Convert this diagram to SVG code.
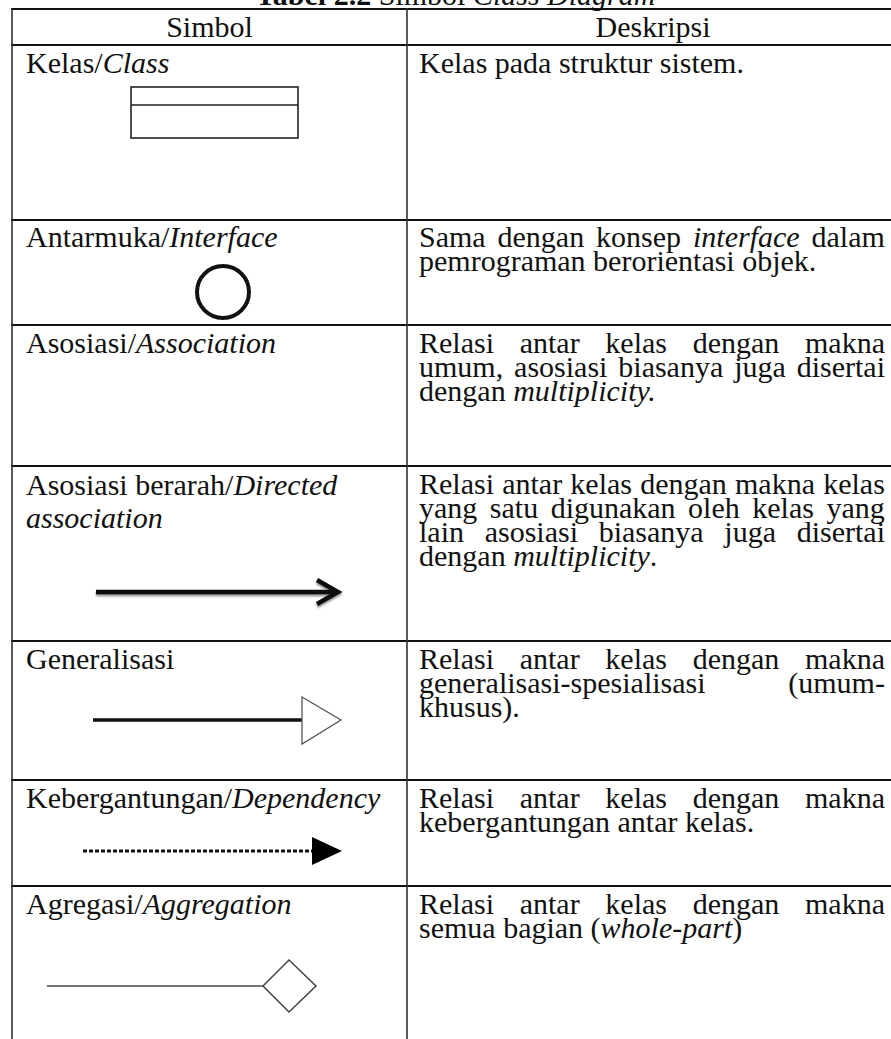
<svg xmlns="http://www.w3.org/2000/svg" width="891" height="1039" viewBox="0 0 891 1039">
  <style>
    .t { font-family: "Liberation Serif", "Times New Roman", serif; font-size: 30px; fill: #111; }
    .i { font-style: italic; }
    .b { font-weight: bold; }
    .mid { text-anchor: middle; }
    .rule { stroke: #111; stroke-width: 2.2; fill: none; }
    .col { stroke: #333; stroke-width: 1.6; fill: none; }
    .sym { stroke: #111; fill: none; }
  </style>
  <defs>
    <filter id="soft" x="-10%" y="-100%" width="120%" height="300%">
      <feGaussianBlur in="SourceAlpha" stdDeviation="1.2"/>
      <feOffset dx="0" dy="1.5" result="b"/>
      <feComponentTransfer><feFuncA type="linear" slope="0.45"/></feComponentTransfer>
      <feMerge><feMergeNode/><feMergeNode in="SourceGraphic"/></feMerge>
    </filter>
  </defs>
  <rect width="891" height="1039" fill="#fff"/>

  <!-- caption -->
  <text class="t mid" x="455.5" y="4.5"><tspan class="b">Tabel 2.2</tspan> Simbol <tspan class="i">Class Diagram</tspan></text>

  <!-- table rules -->
  <g id="grid">
    <line class="rule" x1="11" y1="9" x2="891" y2="9"/>
    <line class="rule" x1="11" y1="45" x2="891" y2="45"/>
    <line class="rule" x1="11" y1="220" x2="891" y2="220"/>
    <line class="rule" x1="11" y1="325" x2="891" y2="325"/>
    <line class="rule" x1="11" y1="466" x2="891" y2="466"/>
    <line class="rule" x1="11" y1="641" x2="891" y2="641"/>
    <line class="rule" x1="11" y1="780" x2="891" y2="780"/>
    <line class="rule" x1="11" y1="886" x2="891" y2="886"/>
    <line class="col" x1="12" y1="8" x2="12" y2="1039"/>
    <line class="col" x1="407" y1="8" x2="407" y2="1039"/>
  </g>

  <g id="header">
    <text class="t mid" x="209.5" y="37">Simbol</text>
    <text class="t mid" x="653" y="37">Deskripsi</text>
  </g>

  <g id="row-class">
    <text class="t" x="26" y="73">Kelas/<tspan class="i">Class</tspan></text>
    <rect x="131" y="87" width="167" height="51" fill="none" stroke="#222" stroke-width="1.6"/>
    <line x1="131" y1="105" x2="298" y2="105" stroke="#222" stroke-width="1.6"/>
    <text class="t" x="419" y="73">Kelas pada struktur sistem.</text>
  </g>

  <g id="row-interface">
    <text class="t" x="26" y="247">Antarmuka/<tspan class="i">Interface</tspan></text>
    <circle class="sym" cx="223" cy="292" r="26" stroke-width="4"/>
    <text class="t" x="419" y="247" word-spacing="4.4">Sama dengan konsep <tspan class="i">interface</tspan> dalam</text>
    <text class="t" x="419" y="271">pemrograman berorientasi objek.</text>
  </g>

  <g id="row-association">
    <text class="t" x="26" y="353">Asosiasi/<tspan class="i">Association</tspan></text>
    <line class="sym" x1="96" y1="429" x2="340" y2="429" stroke-width="5" filter="url(#soft)"/>
    <text class="t" x="419" y="353" word-spacing="18.2">Relasi antar kelas dengan makna</text>
    <text class="t" x="419" y="377" word-spacing="3.4">umum, asosiasi biasanya juga disertai</text>
    <text class="t" x="419" y="401">dengan <tspan class="i">multiplicity.</tspan></text>
  </g>

  <g id="row-directed">
    <text class="t" x="26" y="495">Asosiasi berarah/<tspan class="i">Directed</tspan></text>
    <text class="t i" x="26" y="528">association</text>
    <g filter="url(#soft)">
      <line class="sym" x1="96" y1="592" x2="335" y2="592" stroke-width="4.5"/>
      <polyline class="sym" points="317,580 338,592 317,604" stroke-width="4.5" stroke-linejoin="miter"/>
    </g>
    <text class="t" x="419" y="494" word-spacing="0.7">Relasi antar kelas dengan makna kelas</text>
    <text class="t" x="419" y="518" word-spacing="5">yang satu digunakan oleh kelas yang</text>
    <text class="t" x="419" y="542" word-spacing="13.2">lain asosiasi biasanya juga disertai</text>
    <text class="t" x="419" y="566">dengan <tspan class="i">multiplicity</tspan>.</text>
  </g>

  <g id="row-generalization">
    <text class="t" x="26" y="669">Generalisasi</text>
    <line x1="93" y1="720" x2="302" y2="720" stroke="#111" stroke-width="3.5"/>
    <polygon points="302,697 341,720 302,744" fill="#fff" stroke="#555" stroke-width="1.3"/>
    <text class="t" x="419" y="669" word-spacing="18.2">Relasi antar kelas dengan makna</text>
    <text class="t" x="419" y="693" word-spacing="75.2">generalisasi-spesialisasi (umum-</text>
    <text class="t" x="419" y="717">khusus).</text>
  </g>

  <g id="row-dependency">
    <text class="t" x="26" y="808">Kebergantungan/<tspan class="i">Dependency</tspan></text>
    <line x1="83" y1="851" x2="312" y2="851" stroke="#111" stroke-width="2.8" stroke-dasharray="4 2"/>
    <polygon points="312,837 342,851 312,865" fill="#000"/>
    <text class="t" x="419" y="808" word-spacing="18.2">Relasi antar kelas dengan makna</text>
    <text class="t" x="419" y="832">kebergantungan antar kelas.</text>
  </g>

  <g id="row-aggregation">
    <text class="t" x="26" y="914">Agregasi/<tspan class="i">Aggregation</tspan></text>
    <line x1="47" y1="986" x2="263" y2="986" stroke="#777" stroke-width="2"/>
    <polygon points="263,986 289,960 316,986 289,1012" fill="#fff" stroke="#444" stroke-width="1.5"/>
    <text class="t" x="419" y="914" word-spacing="18.2">Relasi antar kelas dengan makna</text>
    <text class="t" x="419" y="938">semua bagian (<tspan class="i">whole</tspan>-<tspan class="i">part</tspan>)</text>
  </g>
</svg>
